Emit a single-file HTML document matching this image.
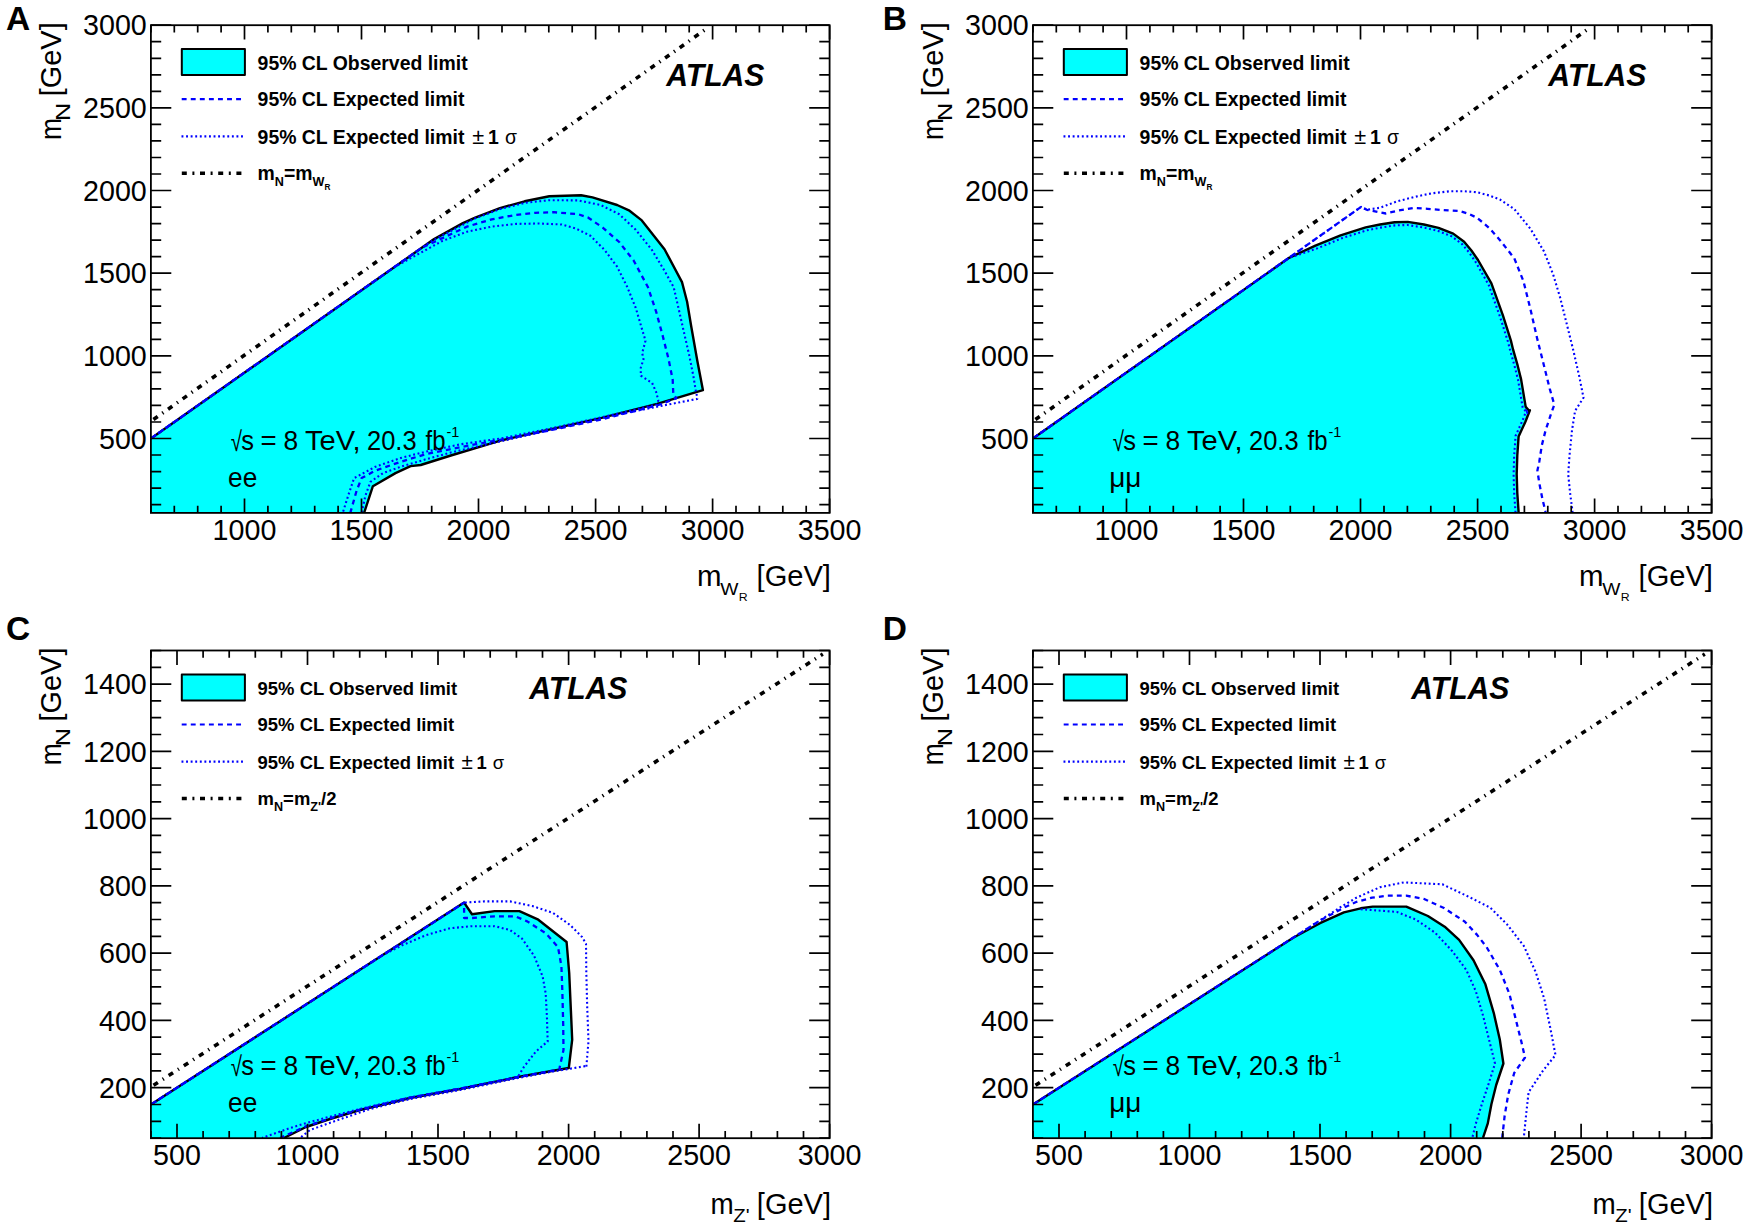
<!DOCTYPE html>
<html><head><meta charset="utf-8"><title>ATLAS limits</title>
<style>html,body{margin:0;padding:0;background:#fff}svg{display:block}</style></head><body>
<svg width="1750" height="1230" viewBox="0 0 1750 1230">
<rect width="1750" height="1230" fill="#fff"/>
<g id="panelA">
<path d="M150.9 512.9 L150.9 438.5 L434.1 239.1 L462.9 223.1 L475.2 217.7 L499.9 208.1 L524.6 201.3 L549.3 196.3 L581.1 195.3 L592.5 197.4 L617.1 205.0 L629.5 210.7 L641.8 220.4 L664.5 249.2 L682.0 282.1 L687.1 301.7 L691.2 326.3 L697.4 361.3 L702.9 390.1 L657.1 403.9 L601.7 417.8 L551.4 429.1 L501.2 440.4 L450.9 455.5 L420.7 465.0 L410.6 466.1 L395.5 473.1 L372.9 486.2 L364.1 512.9Z" fill="#00ffff" stroke="none"/>
<path d="M150.9 438.5 L434.1 239.1 L462.9 223.1 L475.2 217.7 L499.9 208.1 L524.6 201.3 L549.3 196.3 L581.1 195.3 L592.5 197.4 L617.1 205.0 L629.5 210.7 L641.8 220.4 L664.5 249.2 L682.0 282.1 L687.1 301.7 L691.2 326.3 L697.4 361.3 L702.9 390.1 L657.1 403.9 L601.7 417.8 L551.4 429.1 L501.2 440.4 L450.9 455.5 L420.7 465.0 L410.6 466.1 L395.5 473.1 L372.9 486.2 L364.1 512.9" fill="none" stroke="#000" stroke-width="2.4" stroke-linejoin="round"/>
<path d="M150.9 422.0 L706.0 29.8" fill="none" stroke="#000" stroke-width="3.6" stroke-dasharray="5.2 5.70 1.3 5.70" stroke-dashoffset="14.80" transform="translate(0 -0.7)"/>
<path d="M150.9 438.5 L395.0 266.7 L442.3 241.0 L467.0 231.7 L491.7 226.6 L516.3 223.9 L539.0 223.5 L561.6 224.5 L576.0 228.6 L590.4 235.8 L604.8 250.2 L617.1 266.7 L627.4 287.3 L635.7 307.8 L641.8 328.4 L645.5 340.7 L642.2 353.1 L643.5 359.3 L640.8 367.5 L640.8 375.7 L652.1 382.9 L656.2 392.2 L658.3 400.4 L657.1 404.4 L601.7 417.3 L551.4 428.3 L501.2 438.4 L460.9 444.2 L425.7 451.7 L400.6 458.0 L375.4 466.8 L354.1 478.1 L349.0 493.2 L342.7 512.9" fill="none" stroke="#0000ff" stroke-width="2.1" stroke-dasharray="1.9 2.6" stroke-linejoin="round"/>
<path d="M150.9 438.5 L429.9 242.0 L475.2 218.3 L499.9 209.1 L524.6 202.9 L549.3 200.2 L578.1 200.4 L600.7 205.0 L619.2 214.2 L635.7 229.7 L652.1 250.2 L664.5 270.8 L673.7 287.3 L678.9 309.9 L684.0 332.5 L689.2 355.1 L693.3 375.7 L695.7 390.1 L697.4 398.3 L697.3 398.9 L664.6 405.2 L626.9 412.7 L601.7 418.3 L551.4 429.8 L501.2 441.2 L450.9 452.5 L425.7 459.3 L400.6 466.8 L383.0 473.1 L370.4 481.9 L365.4 495.7 L361.6 512.9" fill="none" stroke="#0000ff" stroke-width="2.1" stroke-dasharray="1.9 2.6" stroke-linejoin="round"/>
<path d="M150.9 438.5 L421.7 247.8 L467.0 226.6 L491.7 219.4 L516.3 214.8 L534.9 212.8 L553.4 212.2 L578.1 214.2 L588.3 217.7 L602.7 227.6 L619.2 242.0 L633.6 260.5 L648.0 287.3 L656.2 311.9 L662.4 334.6 L668.6 359.3 L672.7 379.8 L673.3 394.2 L676.4 398.2 L657.1 405.5 L601.7 419.3 L551.4 430.1 L501.2 439.7 L476.0 444.2 L450.9 449.2 L425.7 454.2 L400.6 461.8 L375.4 470.6 L361.6 478.1 L356.6 490.7 L350.3 512.9" fill="none" stroke="#0000ff" stroke-width="2.3" stroke-dasharray="4.9 4.1" stroke-linejoin="round"/>
<rect x="150.9" y="25.2" width="678.7" height="487.7" fill="none" stroke="#000" stroke-width="1.8"/>
<path d="M150.9 512.9 v-7.2 M150.9 25.2 v7.2 M174.3 512.9 v-7.2 M174.3 25.2 v7.2 M197.7 512.9 v-7.2 M197.7 25.2 v7.2 M221.1 512.9 v-7.2 M221.1 25.2 v7.2 M244.5 512.9 v-14.4 M244.5 25.2 v14.4 M267.9 512.9 v-7.2 M267.9 25.2 v7.2 M291.3 512.9 v-7.2 M291.3 25.2 v7.2 M314.7 512.9 v-7.2 M314.7 25.2 v7.2 M338.1 512.9 v-7.2 M338.1 25.2 v7.2 M361.5 512.9 v-14.4 M361.5 25.2 v14.4 M384.9 512.9 v-7.2 M384.9 25.2 v7.2 M408.3 512.9 v-7.2 M408.3 25.2 v7.2 M431.7 512.9 v-7.2 M431.7 25.2 v7.2 M455.1 512.9 v-7.2 M455.1 25.2 v7.2 M478.5 512.9 v-14.4 M478.5 25.2 v14.4 M502.0 512.9 v-7.2 M502.0 25.2 v7.2 M525.4 512.9 v-7.2 M525.4 25.2 v7.2 M548.8 512.9 v-7.2 M548.8 25.2 v7.2 M572.2 512.9 v-7.2 M572.2 25.2 v7.2 M595.6 512.9 v-14.4 M595.6 25.2 v14.4 M619.0 512.9 v-7.2 M619.0 25.2 v7.2 M642.4 512.9 v-7.2 M642.4 25.2 v7.2 M665.8 512.9 v-7.2 M665.8 25.2 v7.2 M689.2 512.9 v-7.2 M689.2 25.2 v7.2 M712.6 512.9 v-14.4 M712.6 25.2 v14.4 M736.0 512.9 v-7.2 M736.0 25.2 v7.2 M759.4 512.9 v-7.2 M759.4 25.2 v7.2 M782.8 512.9 v-7.2 M782.8 25.2 v7.2 M806.2 512.9 v-7.2 M806.2 25.2 v7.2 M829.6 512.9 v-14.4 M829.6 25.2 v14.4 M150.9 504.6 h10.3 M829.6 504.6 h-10.3 M150.9 488.1 h10.3 M829.6 488.1 h-10.3 M150.9 471.6 h10.3 M829.6 471.6 h-10.3 M150.9 455.0 h10.3 M829.6 455.0 h-10.3 M150.9 438.5 h20.4 M829.6 438.5 h-20.4 M150.9 422.0 h10.3 M829.6 422.0 h-10.3 M150.9 405.4 h10.3 M829.6 405.4 h-10.3 M150.9 388.9 h10.3 M829.6 388.9 h-10.3 M150.9 372.4 h10.3 M829.6 372.4 h-10.3 M150.9 355.8 h20.4 M829.6 355.8 h-20.4 M150.9 339.3 h10.3 M829.6 339.3 h-10.3 M150.9 322.8 h10.3 M829.6 322.8 h-10.3 M150.9 306.2 h10.3 M829.6 306.2 h-10.3 M150.9 289.7 h10.3 M829.6 289.7 h-10.3 M150.9 273.2 h20.4 M829.6 273.2 h-20.4 M150.9 256.7 h10.3 M829.6 256.7 h-10.3 M150.9 240.1 h10.3 M829.6 240.1 h-10.3 M150.9 223.6 h10.3 M829.6 223.6 h-10.3 M150.9 207.1 h10.3 M829.6 207.1 h-10.3 M150.9 190.5 h20.4 M829.6 190.5 h-20.4 M150.9 174.0 h10.3 M829.6 174.0 h-10.3 M150.9 157.5 h10.3 M829.6 157.5 h-10.3 M150.9 140.9 h10.3 M829.6 140.9 h-10.3 M150.9 124.4 h10.3 M829.6 124.4 h-10.3 M150.9 107.9 h20.4 M829.6 107.9 h-20.4 M150.9 91.3 h10.3 M829.6 91.3 h-10.3 M150.9 74.8 h10.3 M829.6 74.8 h-10.3 M150.9 58.3 h10.3 M829.6 58.3 h-10.3 M150.9 41.7 h10.3 M829.6 41.7 h-10.3 M150.9 25.2 h20.4 M829.6 25.2 h-20.4" fill="none" stroke="#000" stroke-width="1.7"/>
<text font-family="Liberation Sans, Arial, Helvetica, sans-serif" font-size="30.2" text-anchor="middle" transform="translate(244.5 540.1) scale(0.950 1)" >1000</text>
<text font-family="Liberation Sans, Arial, Helvetica, sans-serif" font-size="30.2" text-anchor="middle" transform="translate(361.5 540.1) scale(0.950 1)" >1500</text>
<text font-family="Liberation Sans, Arial, Helvetica, sans-serif" font-size="30.2" text-anchor="middle" transform="translate(478.5 540.1) scale(0.950 1)" >2000</text>
<text font-family="Liberation Sans, Arial, Helvetica, sans-serif" font-size="30.2" text-anchor="middle" transform="translate(595.6 540.1) scale(0.950 1)" >2500</text>
<text font-family="Liberation Sans, Arial, Helvetica, sans-serif" font-size="30.2" text-anchor="middle" transform="translate(712.6 540.1) scale(0.950 1)" >3000</text>
<text font-family="Liberation Sans, Arial, Helvetica, sans-serif" font-size="30.2" text-anchor="middle" transform="translate(829.6 540.1) scale(0.950 1)" >3500</text>
<text font-family="Liberation Sans, Arial, Helvetica, sans-serif" font-size="30.2" text-anchor="end" transform="translate(146.8 448.7) scale(0.950 1)" >500</text>
<text font-family="Liberation Sans, Arial, Helvetica, sans-serif" font-size="30.2" text-anchor="end" transform="translate(146.8 366.0) scale(0.950 1)" >1000</text>
<text font-family="Liberation Sans, Arial, Helvetica, sans-serif" font-size="30.2" text-anchor="end" transform="translate(146.8 283.4) scale(0.950 1)" >1500</text>
<text font-family="Liberation Sans, Arial, Helvetica, sans-serif" font-size="30.2" text-anchor="end" transform="translate(146.8 200.7) scale(0.950 1)" >2000</text>
<text font-family="Liberation Sans, Arial, Helvetica, sans-serif" font-size="30.2" text-anchor="end" transform="translate(146.8 118.1) scale(0.950 1)" >2500</text>
<text font-family="Liberation Sans, Arial, Helvetica, sans-serif" font-size="30.2" text-anchor="end" transform="translate(146.8 35.4) scale(0.950 1)" >3000</text>
<text font-family="Liberation Sans, Arial, Helvetica, sans-serif"><tspan x="697.01" y="585.60" font-size="30" textLength="24.51" lengthAdjust="spacingAndGlyphs">m</tspan><tspan x="720.30" y="595.40" font-size="17" textLength="18.17" lengthAdjust="spacingAndGlyphs">W</tspan><tspan x="738.68" y="600.60" font-size="10" textLength="8.90" lengthAdjust="spacingAndGlyphs">R</tspan> <tspan x="756.56" y="585.60" font-size="30" textLength="74.35" lengthAdjust="spacingAndGlyphs">[GeV]</tspan></text>
<text font-family="Liberation Sans, Arial, Helvetica, sans-serif" transform="rotate(-90)"><tspan x="-139.88" y="61.40" font-size="30" textLength="22.02" lengthAdjust="spacingAndGlyphs">m</tspan><tspan x="-120.99" y="70.20" font-size="21" textLength="18.27" lengthAdjust="spacingAndGlyphs">N</tspan> <tspan x="-96.33" y="61.40" font-size="30" textLength="74.03" lengthAdjust="spacingAndGlyphs">[GeV]</tspan></text>
<text font-family="Liberation Sans, Arial, Helvetica, sans-serif" font-size="33.5" text-anchor="start" transform="translate(6.0 30.2)" font-weight="bold">A</text>
<rect x="181.8" y="49.1" width="63.1" height="26" fill="#00ffff" stroke="#000" stroke-width="2" stroke-linejoin="round"/>
<path d="M181.7 99.2 H241.4" stroke="#0000ff" stroke-width="2.2" stroke-dasharray="4.9 4.17"/>
<path d="M181.5 136.3 H243.3" stroke="#0000ff" stroke-width="2.3" stroke-dasharray="1.9 2.68"/>
<path d="M181.8 173.2 H241.8" stroke="#000" stroke-width="3.6" stroke-dasharray="5 5.6 2 5.6"/>
<text font-family="Liberation Sans, Arial, Helvetica, sans-serif" font-size="20" text-anchor="start" transform="translate(257.6 69.8) scale(0.971 1)" font-weight="bold">95% CL Observed limit</text>
<text font-family="Liberation Sans, Arial, Helvetica, sans-serif" font-size="20" text-anchor="start" transform="translate(257.6 105.8) scale(0.971 1)" font-weight="bold">95% CL Expected limit</text>
<text font-family="Liberation Sans, Arial, Helvetica, sans-serif" font-size="20" text-anchor="start" transform="translate(257.6 143.6) scale(0.971 1)" font-weight="bold">95% CL Expected limit <tspan font-weight="normal" font-size="22.4" dx="2.5">±</tspan><tspan dx="-1.5"> 1 </tspan><tspan font-weight="normal" font-size="20.0" dx="0.7">σ</tspan></text>
<text font-family="Liberation Sans, Arial, Helvetica, sans-serif" font-size="20" text-anchor="start" transform="translate(257.6 180.1) scale(0.971 1)" font-weight="bold">m<tspan font-size="13" dy="6">N</tspan><tspan dy="-6">=m</tspan><tspan font-size="13" dy="6">W</tspan><tspan font-size="8.5" dy="4">R</tspan></text>
<text font-family="Liberation Sans, Arial, Helvetica, sans-serif" font-size="31.5" text-anchor="start" transform="translate(666.2 86.3) scale(0.957 1)" font-weight="bold" font-style="italic">ATLAS</text>
<text font-family="Liberation Sans, Arial, Helvetica, sans-serif"><tspan x="230.69" y="451.10" font-size="27.5" textLength="11.24" lengthAdjust="spacingAndGlyphs">√</tspan><tspan x="241.30" y="450.20" font-size="27" textLength="12.69" lengthAdjust="spacingAndGlyphs">s</tspan> <tspan x="260.58" y="450.20" font-size="27" textLength="16.17" lengthAdjust="spacingAndGlyphs">=</tspan> <tspan x="283.38" y="450.20" font-size="27" textLength="14.67" lengthAdjust="spacingAndGlyphs">8</tspan> <tspan x="304.95" y="450.20" font-size="27" textLength="55.55" lengthAdjust="spacingAndGlyphs">TeV,</tspan> <tspan x="367.03" y="450.20" font-size="27" textLength="49.59" lengthAdjust="spacingAndGlyphs">20.3</tspan> <tspan x="425.54" y="450.20" font-size="27" textLength="19.95" lengthAdjust="spacingAndGlyphs">fb</tspan><tspan x="446.45" y="437.10" font-size="15" textLength="12.86" lengthAdjust="spacingAndGlyphs">-1</tspan></text>
<text font-family="Liberation Sans, Arial, Helvetica, sans-serif"><tspan x="228.08" y="487.10" font-size="27" textLength="29.19" lengthAdjust="spacingAndGlyphs">ee</tspan></text>
</g>
<g id="panelB">
<path d="M1032.9 512.9 L1032.9 438.5 L1289.1 257.8 L1315.4 245.7 L1340.6 235.4 L1365.7 227.4 L1380.0 224.5 L1394.6 222.3 L1407.8 221.9 L1423.9 224.5 L1438.5 227.8 L1453.2 233.6 L1464.1 241.7 L1471.4 250.5 L1478.0 260.0 L1491.4 283.4 L1502.9 315.4 L1510.9 340.6 L1513.1 349.7 L1517.7 365.7 L1521.1 379.4 L1525.7 406.9 L1529.1 410.7 L1529.9 410.2 L1525.5 421.5 L1518.6 436.6 L1517.3 455.4 L1516.7 474.3 L1517.3 493.1 L1518.6 512.0Z" fill="#00ffff" stroke="none"/>
<path d="M1032.9 438.5 L1289.1 257.8 L1315.4 245.7 L1340.6 235.4 L1365.7 227.4 L1380.0 224.5 L1394.6 222.3 L1407.8 221.9 L1423.9 224.5 L1438.5 227.8 L1453.2 233.6 L1464.1 241.7 L1471.4 250.5 L1478.0 260.0 L1491.4 283.4 L1502.9 315.4 L1510.9 340.6 L1513.1 349.7 L1517.7 365.7 L1521.1 379.4 L1525.7 406.9 L1529.1 410.7 L1529.9 410.2 L1525.5 421.5 L1518.6 436.6 L1517.3 455.4 L1516.7 474.3 L1517.3 493.1 L1518.6 512.0" fill="none" stroke="#000" stroke-width="2.4" stroke-linejoin="round"/>
<path d="M1032.9 422.0 L1588.0 29.8" fill="none" stroke="#000" stroke-width="3.6" stroke-dasharray="5.2 5.70 1.3 5.70" stroke-dashoffset="14.80" transform="translate(0 -0.7)"/>
<path d="M1032.9 438.5 L1289.1 257.8 L1316.7 248.6 L1341.6 238.3 L1366.5 230.4 L1380.5 227.6 L1394.9 225.4 L1407.6 225.0 L1423.3 227.5 L1437.6 230.7 L1451.7 236.4 L1462.0 244.0 L1469.0 252.3 L1475.4 261.6 L1488.6 284.7 L1499.9 316.4 L1507.9 341.5 L1510.2 350.5 L1514.7 366.5 L1518.1 380.0 L1522.7 407.6 L1527.2 413.2 L1526.9 409.2 L1522.6 420.3 L1515.6 435.8 L1514.2 455.3 L1513.6 474.3 L1514.2 493.3 L1515.5 512.2" fill="none" stroke="#0000ff" stroke-width="2.1" stroke-dasharray="1.9 2.6" stroke-linejoin="round"/>
<path d="M1032.9 438.5 L1361.1 206.9 L1366.9 209.8 L1380.0 207.7 L1396.8 201.5 L1413.7 197.1 L1431.2 193.4 L1450.2 191.2 L1464.1 191.2 L1477.3 192.3 L1489.7 195.6 L1500.0 199.6 L1514.3 209.1 L1530.3 228.6 L1544.0 251.4 L1553.1 274.3 L1560.0 297.1 L1566.9 324.6 L1573.7 352.0 L1579.4 377.1 L1583.5 397.7 L1575.1 410.8 L1572.0 430.3 L1569.5 455.4 L1568.2 474.3 L1570.1 493.1 L1572.6 512.0" fill="none" stroke="#0000ff" stroke-width="2.1" stroke-dasharray="1.9 2.6" stroke-linejoin="round"/>
<path d="M1032.9 438.5 L1361.1 206.9 L1366.9 209.8 L1385.9 213.5 L1398.3 210.6 L1413.7 208.0 L1427.5 208.8 L1440.7 209.9 L1459.7 211.0 L1467.8 213.5 L1476.6 217.5 L1483.9 223.4 L1489.7 228.5 L1500.0 240.2 L1514.3 258.3 L1523.4 281.1 L1530.3 308.6 L1537.1 338.3 L1544.0 365.7 L1549.7 388.6 L1554.3 404.6 L1550.6 415.2 L1545.6 430.3 L1541.8 445.4 L1539.3 461.7 L1537.4 470.5 L1539.3 483.1 L1542.5 499.4 L1545.6 512.0" fill="none" stroke="#0000ff" stroke-width="2.3" stroke-dasharray="4.9 4.1" stroke-linejoin="round"/>
<rect x="1032.9" y="25.2" width="678.7" height="487.7" fill="none" stroke="#000" stroke-width="1.8"/>
<path d="M1032.9 512.9 v-7.2 M1032.9 25.2 v7.2 M1056.3 512.9 v-7.2 M1056.3 25.2 v7.2 M1079.7 512.9 v-7.2 M1079.7 25.2 v7.2 M1103.1 512.9 v-7.2 M1103.1 25.2 v7.2 M1126.5 512.9 v-14.4 M1126.5 25.2 v14.4 M1149.9 512.9 v-7.2 M1149.9 25.2 v7.2 M1173.3 512.9 v-7.2 M1173.3 25.2 v7.2 M1196.7 512.9 v-7.2 M1196.7 25.2 v7.2 M1220.1 512.9 v-7.2 M1220.1 25.2 v7.2 M1243.5 512.9 v-14.4 M1243.5 25.2 v14.4 M1266.9 512.9 v-7.2 M1266.9 25.2 v7.2 M1290.3 512.9 v-7.2 M1290.3 25.2 v7.2 M1313.7 512.9 v-7.2 M1313.7 25.2 v7.2 M1337.1 512.9 v-7.2 M1337.1 25.2 v7.2 M1360.5 512.9 v-14.4 M1360.5 25.2 v14.4 M1384.0 512.9 v-7.2 M1384.0 25.2 v7.2 M1407.4 512.9 v-7.2 M1407.4 25.2 v7.2 M1430.8 512.9 v-7.2 M1430.8 25.2 v7.2 M1454.2 512.9 v-7.2 M1454.2 25.2 v7.2 M1477.6 512.9 v-14.4 M1477.6 25.2 v14.4 M1501.0 512.9 v-7.2 M1501.0 25.2 v7.2 M1524.4 512.9 v-7.2 M1524.4 25.2 v7.2 M1547.8 512.9 v-7.2 M1547.8 25.2 v7.2 M1571.2 512.9 v-7.2 M1571.2 25.2 v7.2 M1594.6 512.9 v-14.4 M1594.6 25.2 v14.4 M1618.0 512.9 v-7.2 M1618.0 25.2 v7.2 M1641.4 512.9 v-7.2 M1641.4 25.2 v7.2 M1664.8 512.9 v-7.2 M1664.8 25.2 v7.2 M1688.2 512.9 v-7.2 M1688.2 25.2 v7.2 M1711.6 512.9 v-14.4 M1711.6 25.2 v14.4 M1032.9 504.6 h10.3 M1711.6 504.6 h-10.3 M1032.9 488.1 h10.3 M1711.6 488.1 h-10.3 M1032.9 471.6 h10.3 M1711.6 471.6 h-10.3 M1032.9 455.0 h10.3 M1711.6 455.0 h-10.3 M1032.9 438.5 h20.4 M1711.6 438.5 h-20.4 M1032.9 422.0 h10.3 M1711.6 422.0 h-10.3 M1032.9 405.4 h10.3 M1711.6 405.4 h-10.3 M1032.9 388.9 h10.3 M1711.6 388.9 h-10.3 M1032.9 372.4 h10.3 M1711.6 372.4 h-10.3 M1032.9 355.8 h20.4 M1711.6 355.8 h-20.4 M1032.9 339.3 h10.3 M1711.6 339.3 h-10.3 M1032.9 322.8 h10.3 M1711.6 322.8 h-10.3 M1032.9 306.2 h10.3 M1711.6 306.2 h-10.3 M1032.9 289.7 h10.3 M1711.6 289.7 h-10.3 M1032.9 273.2 h20.4 M1711.6 273.2 h-20.4 M1032.9 256.7 h10.3 M1711.6 256.7 h-10.3 M1032.9 240.1 h10.3 M1711.6 240.1 h-10.3 M1032.9 223.6 h10.3 M1711.6 223.6 h-10.3 M1032.9 207.1 h10.3 M1711.6 207.1 h-10.3 M1032.9 190.5 h20.4 M1711.6 190.5 h-20.4 M1032.9 174.0 h10.3 M1711.6 174.0 h-10.3 M1032.9 157.5 h10.3 M1711.6 157.5 h-10.3 M1032.9 140.9 h10.3 M1711.6 140.9 h-10.3 M1032.9 124.4 h10.3 M1711.6 124.4 h-10.3 M1032.9 107.9 h20.4 M1711.6 107.9 h-20.4 M1032.9 91.3 h10.3 M1711.6 91.3 h-10.3 M1032.9 74.8 h10.3 M1711.6 74.8 h-10.3 M1032.9 58.3 h10.3 M1711.6 58.3 h-10.3 M1032.9 41.7 h10.3 M1711.6 41.7 h-10.3 M1032.9 25.2 h20.4 M1711.6 25.2 h-20.4" fill="none" stroke="#000" stroke-width="1.7"/>
<text font-family="Liberation Sans, Arial, Helvetica, sans-serif" font-size="30.2" text-anchor="middle" transform="translate(1126.5 540.1) scale(0.950 1)" >1000</text>
<text font-family="Liberation Sans, Arial, Helvetica, sans-serif" font-size="30.2" text-anchor="middle" transform="translate(1243.5 540.1) scale(0.950 1)" >1500</text>
<text font-family="Liberation Sans, Arial, Helvetica, sans-serif" font-size="30.2" text-anchor="middle" transform="translate(1360.5 540.1) scale(0.950 1)" >2000</text>
<text font-family="Liberation Sans, Arial, Helvetica, sans-serif" font-size="30.2" text-anchor="middle" transform="translate(1477.6 540.1) scale(0.950 1)" >2500</text>
<text font-family="Liberation Sans, Arial, Helvetica, sans-serif" font-size="30.2" text-anchor="middle" transform="translate(1594.6 540.1) scale(0.950 1)" >3000</text>
<text font-family="Liberation Sans, Arial, Helvetica, sans-serif" font-size="30.2" text-anchor="middle" transform="translate(1711.6 540.1) scale(0.950 1)" >3500</text>
<text font-family="Liberation Sans, Arial, Helvetica, sans-serif" font-size="30.2" text-anchor="end" transform="translate(1028.8 448.7) scale(0.950 1)" >500</text>
<text font-family="Liberation Sans, Arial, Helvetica, sans-serif" font-size="30.2" text-anchor="end" transform="translate(1028.8 366.0) scale(0.950 1)" >1000</text>
<text font-family="Liberation Sans, Arial, Helvetica, sans-serif" font-size="30.2" text-anchor="end" transform="translate(1028.8 283.4) scale(0.950 1)" >1500</text>
<text font-family="Liberation Sans, Arial, Helvetica, sans-serif" font-size="30.2" text-anchor="end" transform="translate(1028.8 200.7) scale(0.950 1)" >2000</text>
<text font-family="Liberation Sans, Arial, Helvetica, sans-serif" font-size="30.2" text-anchor="end" transform="translate(1028.8 118.1) scale(0.950 1)" >2500</text>
<text font-family="Liberation Sans, Arial, Helvetica, sans-serif" font-size="30.2" text-anchor="end" transform="translate(1028.8 35.4) scale(0.950 1)" >3000</text>
<text font-family="Liberation Sans, Arial, Helvetica, sans-serif"><tspan x="1579.01" y="585.60" font-size="30" textLength="24.51" lengthAdjust="spacingAndGlyphs">m</tspan><tspan x="1602.30" y="595.40" font-size="17" textLength="18.17" lengthAdjust="spacingAndGlyphs">W</tspan><tspan x="1620.68" y="600.60" font-size="10" textLength="8.90" lengthAdjust="spacingAndGlyphs">R</tspan> <tspan x="1638.56" y="585.60" font-size="30" textLength="74.35" lengthAdjust="spacingAndGlyphs">[GeV]</tspan></text>
<text font-family="Liberation Sans, Arial, Helvetica, sans-serif" transform="rotate(-90)"><tspan x="-139.88" y="943.40" font-size="30" textLength="22.02" lengthAdjust="spacingAndGlyphs">m</tspan><tspan x="-120.99" y="952.20" font-size="21" textLength="18.27" lengthAdjust="spacingAndGlyphs">N</tspan> <tspan x="-96.33" y="943.40" font-size="30" textLength="74.03" lengthAdjust="spacingAndGlyphs">[GeV]</tspan></text>
<text font-family="Liberation Sans, Arial, Helvetica, sans-serif" font-size="33.5" text-anchor="start" transform="translate(882.8 30.2)" font-weight="bold">B</text>
<rect x="1063.8" y="49.1" width="63.1" height="26" fill="#00ffff" stroke="#000" stroke-width="2" stroke-linejoin="round"/>
<path d="M1063.7 99.2 H1123.4" stroke="#0000ff" stroke-width="2.2" stroke-dasharray="4.9 4.17"/>
<path d="M1063.5 136.3 H1125.3" stroke="#0000ff" stroke-width="2.3" stroke-dasharray="1.9 2.68"/>
<path d="M1063.8 173.2 H1123.8" stroke="#000" stroke-width="3.6" stroke-dasharray="5 5.6 2 5.6"/>
<text font-family="Liberation Sans, Arial, Helvetica, sans-serif" font-size="20" text-anchor="start" transform="translate(1139.6 69.8) scale(0.971 1)" font-weight="bold">95% CL Observed limit</text>
<text font-family="Liberation Sans, Arial, Helvetica, sans-serif" font-size="20" text-anchor="start" transform="translate(1139.6 105.8) scale(0.971 1)" font-weight="bold">95% CL Expected limit</text>
<text font-family="Liberation Sans, Arial, Helvetica, sans-serif" font-size="20" text-anchor="start" transform="translate(1139.6 143.6) scale(0.971 1)" font-weight="bold">95% CL Expected limit <tspan font-weight="normal" font-size="22.4" dx="2.5">±</tspan><tspan dx="-1.5"> 1 </tspan><tspan font-weight="normal" font-size="20.0" dx="0.7">σ</tspan></text>
<text font-family="Liberation Sans, Arial, Helvetica, sans-serif" font-size="20" text-anchor="start" transform="translate(1139.6 180.1) scale(0.971 1)" font-weight="bold">m<tspan font-size="13" dy="6">N</tspan><tspan dy="-6">=m</tspan><tspan font-size="13" dy="6">W</tspan><tspan font-size="8.5" dy="4">R</tspan></text>
<text font-family="Liberation Sans, Arial, Helvetica, sans-serif" font-size="31.5" text-anchor="start" transform="translate(1548.2 86.3) scale(0.957 1)" font-weight="bold" font-style="italic">ATLAS</text>
<text font-family="Liberation Sans, Arial, Helvetica, sans-serif"><tspan x="1112.69" y="451.10" font-size="27.5" textLength="11.24" lengthAdjust="spacingAndGlyphs">√</tspan><tspan x="1123.30" y="450.20" font-size="27" textLength="12.69" lengthAdjust="spacingAndGlyphs">s</tspan> <tspan x="1142.58" y="450.20" font-size="27" textLength="16.17" lengthAdjust="spacingAndGlyphs">=</tspan> <tspan x="1165.38" y="450.20" font-size="27" textLength="14.67" lengthAdjust="spacingAndGlyphs">8</tspan> <tspan x="1186.95" y="450.20" font-size="27" textLength="55.55" lengthAdjust="spacingAndGlyphs">TeV,</tspan> <tspan x="1249.03" y="450.20" font-size="27" textLength="49.59" lengthAdjust="spacingAndGlyphs">20.3</tspan> <tspan x="1307.54" y="450.20" font-size="27" textLength="19.95" lengthAdjust="spacingAndGlyphs">fb</tspan><tspan x="1328.45" y="437.10" font-size="15" textLength="12.86" lengthAdjust="spacingAndGlyphs">-1</tspan></text>
<text font-family="Liberation Sans, Arial, Helvetica, sans-serif"><tspan x="1109.21" y="487.10" font-size="27" textLength="32.29" lengthAdjust="spacingAndGlyphs">μμ</tspan></text>
</g>
<g id="panelC">
<path d="M150.9 1138.2 L150.9 1104.5 L464.1 902.6 L472.0 914.2 L494.6 911.1 L519.4 911.1 L538.3 919.7 L566.6 942.0 L569.2 972.9 L570.9 1010.6 L572.2 1039.7 L568.8 1068.0 L518.0 1077.0 L460.0 1089.0 L410.0 1098.0 L390.0 1103.0 L360.0 1110.0 L330.0 1119.0 L306.0 1127.0 L284.0 1138.0Z" fill="#00ffff" stroke="none"/>
<path d="M150.9 1104.5 L464.1 902.6 L472.0 914.2 L494.6 911.1 L519.4 911.1 L538.3 919.7 L566.6 942.0 L569.2 972.9 L570.9 1010.6 L572.2 1039.7 L568.8 1068.0 L518.0 1077.0 L460.0 1089.0 L410.0 1098.0 L390.0 1103.0 L360.0 1110.0 L330.0 1119.0 L306.0 1127.0 L284.0 1138.0" fill="none" stroke="#000" stroke-width="2.4" stroke-linejoin="round"/>
<path d="M150.9 1087.7 L822.8 654.8" fill="none" stroke="#000" stroke-width="3.6" stroke-dasharray="5.2 5.77 1.3 5.77" stroke-dashoffset="14.93" transform="translate(0 -0.7)"/>
<path d="M150.9 1104.5 L381.4 955.7 L402.0 945.4 L426.0 935.1 L450.0 928.3 L470.6 926.2 L494.6 926.2 L510.0 930.0 L522.0 938.6 L534.0 955.7 L542.6 976.3 L545.7 993.4 L546.9 1015.7 L547.7 1041.4 L535.7 1051.7 L523.7 1067.2 L518.6 1075.7 L518.0 1077.0 L460.0 1088.6 L410.0 1097.4 L390.0 1102.0 L360.0 1109.0 L340.0 1114.0 L310.0 1122.0 L290.0 1128.0 L262.0 1138.0" fill="none" stroke="#0000ff" stroke-width="2.1" stroke-dasharray="1.9 2.6" stroke-linejoin="round"/>
<path d="M150.9 1104.5 L464.1 902.6 L484.3 901.4 L510.0 901.4 L532.3 906.0 L552.9 912.9 L570.0 924.9 L582.0 936.9 L586.0 943.7 L586.3 972.9 L587.2 1007.2 L588.5 1041.4 L586.3 1067.2 L586.0 1066.0 L550.0 1072.0 L518.0 1078.0 L460.0 1090.0 L410.0 1099.0 L370.0 1109.0 L338.0 1120.0 L310.0 1130.0 L300.0 1138.0" fill="none" stroke="#0000ff" stroke-width="2.1" stroke-dasharray="1.9 2.6" stroke-linejoin="round"/>
<path d="M150.9 1104.5 L464.1 902.6 L464.1 918.0 L472.3 918.0 L494.6 916.3 L515.2 916.3 L527.2 921.4 L546.0 933.4 L558.0 947.1 L561.4 966.0 L562.3 990.0 L563.2 1024.3 L563.5 1050.0 L559.7 1067.2 L559.6 1069.4 L518.0 1077.0 L460.0 1088.6 L410.0 1097.6 L390.0 1102.4 L360.0 1109.6 L330.0 1118.4 L306.0 1126.4 L280.0 1138.0" fill="none" stroke="#0000ff" stroke-width="2.3" stroke-dasharray="4.9 4.1" stroke-linejoin="round"/>
<rect x="150.9" y="650.5" width="678.7" height="487.7" fill="none" stroke="#000" stroke-width="1.8"/>
<path d="M150.9 1138.2 v-7.2 M150.9 650.5 v7.2 M177.0 1138.2 v-14.4 M177.0 650.5 v14.4 M203.1 1138.2 v-7.2 M203.1 650.5 v7.2 M229.2 1138.2 v-7.2 M229.2 650.5 v7.2 M255.3 1138.2 v-7.2 M255.3 650.5 v7.2 M281.4 1138.2 v-7.2 M281.4 650.5 v7.2 M307.5 1138.2 v-14.4 M307.5 650.5 v14.4 M333.6 1138.2 v-7.2 M333.6 650.5 v7.2 M359.7 1138.2 v-7.2 M359.7 650.5 v7.2 M385.8 1138.2 v-7.2 M385.8 650.5 v7.2 M411.9 1138.2 v-7.2 M411.9 650.5 v7.2 M438.0 1138.2 v-14.4 M438.0 650.5 v14.4 M464.1 1138.2 v-7.2 M464.1 650.5 v7.2 M490.2 1138.2 v-7.2 M490.2 650.5 v7.2 M516.4 1138.2 v-7.2 M516.4 650.5 v7.2 M542.5 1138.2 v-7.2 M542.5 650.5 v7.2 M568.6 1138.2 v-14.4 M568.6 650.5 v14.4 M594.7 1138.2 v-7.2 M594.7 650.5 v7.2 M620.8 1138.2 v-7.2 M620.8 650.5 v7.2 M646.9 1138.2 v-7.2 M646.9 650.5 v7.2 M673.0 1138.2 v-7.2 M673.0 650.5 v7.2 M699.1 1138.2 v-14.4 M699.1 650.5 v14.4 M725.2 1138.2 v-7.2 M725.2 650.5 v7.2 M751.3 1138.2 v-7.2 M751.3 650.5 v7.2 M777.4 1138.2 v-7.2 M777.4 650.5 v7.2 M803.5 1138.2 v-7.2 M803.5 650.5 v7.2 M829.6 1138.2 v-14.4 M829.6 650.5 v14.4 M150.9 1138.2 h10.3 M829.6 1138.2 h-10.3 M150.9 1121.3 h10.3 M829.6 1121.3 h-10.3 M150.9 1104.5 h10.3 M829.6 1104.5 h-10.3 M150.9 1087.7 h20.4 M829.6 1087.7 h-20.4 M150.9 1070.9 h10.3 M829.6 1070.9 h-10.3 M150.9 1054.1 h10.3 M829.6 1054.1 h-10.3 M150.9 1037.2 h10.3 M829.6 1037.2 h-10.3 M150.9 1020.4 h20.4 M829.6 1020.4 h-20.4 M150.9 1003.6 h10.3 M829.6 1003.6 h-10.3 M150.9 986.8 h10.3 M829.6 986.8 h-10.3 M150.9 970.0 h10.3 M829.6 970.0 h-10.3 M150.9 953.2 h20.4 M829.6 953.2 h-20.4 M150.9 936.3 h10.3 M829.6 936.3 h-10.3 M150.9 919.5 h10.3 M829.6 919.5 h-10.3 M150.9 902.7 h10.3 M829.6 902.7 h-10.3 M150.9 885.9 h20.4 M829.6 885.9 h-20.4 M150.9 869.1 h10.3 M829.6 869.1 h-10.3 M150.9 852.3 h10.3 M829.6 852.3 h-10.3 M150.9 835.4 h10.3 M829.6 835.4 h-10.3 M150.9 818.6 h20.4 M829.6 818.6 h-20.4 M150.9 801.8 h10.3 M829.6 801.8 h-10.3 M150.9 785.0 h10.3 M829.6 785.0 h-10.3 M150.9 768.2 h10.3 M829.6 768.2 h-10.3 M150.9 751.4 h20.4 M829.6 751.4 h-20.4 M150.9 734.5 h10.3 M829.6 734.5 h-10.3 M150.9 717.7 h10.3 M829.6 717.7 h-10.3 M150.9 700.9 h10.3 M829.6 700.9 h-10.3 M150.9 684.1 h20.4 M829.6 684.1 h-20.4 M150.9 667.3 h10.3 M829.6 667.3 h-10.3 M150.9 650.5 h10.3 M829.6 650.5 h-10.3" fill="none" stroke="#000" stroke-width="1.7"/>
<text font-family="Liberation Sans, Arial, Helvetica, sans-serif" font-size="30.2" text-anchor="middle" transform="translate(177.0 1165.4) scale(0.950 1)" >500</text>
<text font-family="Liberation Sans, Arial, Helvetica, sans-serif" font-size="30.2" text-anchor="middle" transform="translate(307.5 1165.4) scale(0.950 1)" >1000</text>
<text font-family="Liberation Sans, Arial, Helvetica, sans-serif" font-size="30.2" text-anchor="middle" transform="translate(438.0 1165.4) scale(0.950 1)" >1500</text>
<text font-family="Liberation Sans, Arial, Helvetica, sans-serif" font-size="30.2" text-anchor="middle" transform="translate(568.6 1165.4) scale(0.950 1)" >2000</text>
<text font-family="Liberation Sans, Arial, Helvetica, sans-serif" font-size="30.2" text-anchor="middle" transform="translate(699.1 1165.4) scale(0.950 1)" >2500</text>
<text font-family="Liberation Sans, Arial, Helvetica, sans-serif" font-size="30.2" text-anchor="middle" transform="translate(829.6 1165.4) scale(0.950 1)" >3000</text>
<text font-family="Liberation Sans, Arial, Helvetica, sans-serif" font-size="30.2" text-anchor="end" transform="translate(146.8 1097.9) scale(0.950 1)" >200</text>
<text font-family="Liberation Sans, Arial, Helvetica, sans-serif" font-size="30.2" text-anchor="end" transform="translate(146.8 1030.6) scale(0.950 1)" >400</text>
<text font-family="Liberation Sans, Arial, Helvetica, sans-serif" font-size="30.2" text-anchor="end" transform="translate(146.8 963.4) scale(0.950 1)" >600</text>
<text font-family="Liberation Sans, Arial, Helvetica, sans-serif" font-size="30.2" text-anchor="end" transform="translate(146.8 896.1) scale(0.950 1)" >800</text>
<text font-family="Liberation Sans, Arial, Helvetica, sans-serif" font-size="30.2" text-anchor="end" transform="translate(146.8 828.8) scale(0.950 1)" >1000</text>
<text font-family="Liberation Sans, Arial, Helvetica, sans-serif" font-size="30.2" text-anchor="end" transform="translate(146.8 761.6) scale(0.950 1)" >1200</text>
<text font-family="Liberation Sans, Arial, Helvetica, sans-serif" font-size="30.2" text-anchor="end" transform="translate(146.8 694.3) scale(0.950 1)" >1400</text>
<text font-family="Liberation Sans, Arial, Helvetica, sans-serif"><tspan x="710.42" y="1213.55" font-size="30" textLength="23.21" lengthAdjust="spacingAndGlyphs">m</tspan><tspan x="733.34" y="1222.25" font-size="19" textLength="16.32" lengthAdjust="spacingAndGlyphs">Z'</tspan> <tspan x="756.87" y="1213.55" font-size="30" textLength="74.14" lengthAdjust="spacingAndGlyphs">[GeV]</tspan></text>
<text font-family="Liberation Sans, Arial, Helvetica, sans-serif" transform="rotate(-90)"><tspan x="-765.13" y="61.40" font-size="30" textLength="22.02" lengthAdjust="spacingAndGlyphs">m</tspan><tspan x="-746.24" y="70.20" font-size="21" textLength="18.27" lengthAdjust="spacingAndGlyphs">N</tspan> <tspan x="-721.58" y="61.40" font-size="30" textLength="74.03" lengthAdjust="spacingAndGlyphs">[GeV]</tspan></text>
<text font-family="Liberation Sans, Arial, Helvetica, sans-serif" font-size="33.5" text-anchor="start" transform="translate(6.0 640.4)" font-weight="bold">C</text>
<rect x="181.8" y="674.4" width="63.1" height="26" fill="#00ffff" stroke="#000" stroke-width="2" stroke-linejoin="round"/>
<path d="M181.7 724.5 H241.4" stroke="#0000ff" stroke-width="2.2" stroke-dasharray="4.9 4.17"/>
<path d="M181.5 761.6 H243.3" stroke="#0000ff" stroke-width="2.3" stroke-dasharray="1.9 2.68"/>
<path d="M181.8 798.5 H241.8" stroke="#000" stroke-width="3.6" stroke-dasharray="5 5.6 2 5.6"/>
<text font-family="Liberation Sans, Arial, Helvetica, sans-serif" font-size="19" text-anchor="start" transform="translate(257.6 695.1) scale(0.971 1)" font-weight="bold">95% CL Observed limit</text>
<text font-family="Liberation Sans, Arial, Helvetica, sans-serif" font-size="19" text-anchor="start" transform="translate(257.6 731.1) scale(0.971 1)" font-weight="bold">95% CL Expected limit</text>
<text font-family="Liberation Sans, Arial, Helvetica, sans-serif" font-size="19" text-anchor="start" transform="translate(257.6 768.9) scale(0.971 1)" font-weight="bold">95% CL Expected limit <tspan font-weight="normal" font-size="21.3" dx="2.5">±</tspan><tspan dx="-1.5"> 1 </tspan><tspan font-weight="normal" font-size="19.0" dx="0.7">σ</tspan></text>
<text font-family="Liberation Sans, Arial, Helvetica, sans-serif" font-size="19" text-anchor="start" transform="translate(257.6 805.4) scale(0.971 1)" font-weight="bold">m<tspan font-size="13" dy="6">N</tspan><tspan dy="-6">=m</tspan><tspan font-size="13" dy="6">Z'</tspan><tspan dy="-6">/2</tspan></text>
<text font-family="Liberation Sans, Arial, Helvetica, sans-serif" font-size="31.5" text-anchor="start" transform="translate(529.2 699.4) scale(0.957 1)" font-weight="bold" font-style="italic">ATLAS</text>
<text font-family="Liberation Sans, Arial, Helvetica, sans-serif"><tspan x="230.69" y="1076.35" font-size="27.5" textLength="11.24" lengthAdjust="spacingAndGlyphs">√</tspan><tspan x="241.30" y="1075.45" font-size="27" textLength="12.69" lengthAdjust="spacingAndGlyphs">s</tspan> <tspan x="260.58" y="1075.45" font-size="27" textLength="16.17" lengthAdjust="spacingAndGlyphs">=</tspan> <tspan x="283.38" y="1075.45" font-size="27" textLength="14.67" lengthAdjust="spacingAndGlyphs">8</tspan> <tspan x="304.95" y="1075.45" font-size="27" textLength="55.55" lengthAdjust="spacingAndGlyphs">TeV,</tspan> <tspan x="367.03" y="1075.45" font-size="27" textLength="49.59" lengthAdjust="spacingAndGlyphs">20.3</tspan> <tspan x="425.54" y="1075.45" font-size="27" textLength="19.95" lengthAdjust="spacingAndGlyphs">fb</tspan><tspan x="446.45" y="1062.35" font-size="15" textLength="12.86" lengthAdjust="spacingAndGlyphs">-1</tspan></text>
<text font-family="Liberation Sans, Arial, Helvetica, sans-serif"><tspan x="228.08" y="1112.35" font-size="27" textLength="29.19" lengthAdjust="spacingAndGlyphs">ee</tspan></text>
</g>
<g id="panelD">
<path d="M1032.9 1138.2 L1032.9 1104.5 L1293.6 937.5 L1320.0 923.2 L1343.9 912.4 L1360.7 908.3 L1372.7 906.6 L1406.3 906.6 L1427.9 916.0 L1444.7 926.7 L1459.1 939.9 L1473.5 960.3 L1485.4 984.3 L1493.8 1013.1 L1499.8 1039.5 L1503.4 1063.5 L1496.2 1085.0 L1491.4 1104.2 L1487.8 1123.4 L1483.0 1137.8Z" fill="#00ffff" stroke="none"/>
<path d="M1032.9 1104.5 L1293.6 937.5 L1320.0 923.2 L1343.9 912.4 L1360.7 908.3 L1372.7 906.6 L1406.3 906.6 L1427.9 916.0 L1444.7 926.7 L1459.1 939.9 L1473.5 960.3 L1485.4 984.3 L1493.8 1013.1 L1499.8 1039.5 L1503.4 1063.5 L1496.2 1085.0 L1491.4 1104.2 L1487.8 1123.4 L1483.0 1137.8" fill="none" stroke="#000" stroke-width="2.4" stroke-linejoin="round"/>
<path d="M1032.9 1087.7 L1704.8 654.8" fill="none" stroke="#000" stroke-width="3.6" stroke-dasharray="5.2 5.77 1.3 5.77" stroke-dashoffset="14.93" transform="translate(0 -0.7)"/>
<path d="M1360.7 909.2 L1396.7 911.9 L1415.9 919.6 L1435.1 932.7 L1451.9 950.7 L1466.3 969.9 L1475.9 991.5 L1483.0 1015.5 L1489.0 1039.5 L1495.0 1063.5 L1489.0 1082.6 L1481.8 1104.2 L1475.9 1123.4 L1472.3 1137.8" fill="none" stroke="#0000ff" stroke-width="2.1" stroke-dasharray="1.9 2.6" stroke-linejoin="round"/>
<path d="M1032.9 1104.5 L1341.5 906.6 L1355.9 898.0 L1379.9 887.2 L1403.9 882.4 L1442.3 884.3 L1466.3 895.6 L1490.2 907.6 L1507.0 924.3 L1523.8 945.9 L1535.8 972.3 L1544.2 998.7 L1550.2 1027.5 L1555.5 1055.1 L1543.0 1070.6 L1528.6 1092.2 L1526.2 1113.8 L1523.8 1137.8" fill="none" stroke="#0000ff" stroke-width="2.1" stroke-dasharray="1.9 2.6" stroke-linejoin="round"/>
<path d="M1032.9 1104.5 L1320.0 920.5 L1343.9 907.6 L1356.7 901.8 L1372.0 897.7 L1387.4 895.7 L1406.1 895.7 L1423.6 898.8 L1444.0 908.0 L1464.6 921.5 L1477.1 934.9 L1486.6 947.1 L1499.8 969.9 L1509.4 993.9 L1515.4 1017.9 L1521.4 1041.9 L1525.0 1057.5 L1514.2 1073.0 L1508.2 1094.6 L1504.6 1116.2 L1502.2 1137.8" fill="none" stroke="#0000ff" stroke-width="2.3" stroke-dasharray="4.9 4.1" stroke-linejoin="round"/>
<rect x="1032.9" y="650.5" width="678.7" height="487.7" fill="none" stroke="#000" stroke-width="1.8"/>
<path d="M1032.9 1138.2 v-7.2 M1032.9 650.5 v7.2 M1059.0 1138.2 v-14.4 M1059.0 650.5 v14.4 M1085.1 1138.2 v-7.2 M1085.1 650.5 v7.2 M1111.2 1138.2 v-7.2 M1111.2 650.5 v7.2 M1137.3 1138.2 v-7.2 M1137.3 650.5 v7.2 M1163.4 1138.2 v-7.2 M1163.4 650.5 v7.2 M1189.5 1138.2 v-14.4 M1189.5 650.5 v14.4 M1215.6 1138.2 v-7.2 M1215.6 650.5 v7.2 M1241.7 1138.2 v-7.2 M1241.7 650.5 v7.2 M1267.8 1138.2 v-7.2 M1267.8 650.5 v7.2 M1293.9 1138.2 v-7.2 M1293.9 650.5 v7.2 M1320.0 1138.2 v-14.4 M1320.0 650.5 v14.4 M1346.1 1138.2 v-7.2 M1346.1 650.5 v7.2 M1372.2 1138.2 v-7.2 M1372.2 650.5 v7.2 M1398.4 1138.2 v-7.2 M1398.4 650.5 v7.2 M1424.5 1138.2 v-7.2 M1424.5 650.5 v7.2 M1450.6 1138.2 v-14.4 M1450.6 650.5 v14.4 M1476.7 1138.2 v-7.2 M1476.7 650.5 v7.2 M1502.8 1138.2 v-7.2 M1502.8 650.5 v7.2 M1528.9 1138.2 v-7.2 M1528.9 650.5 v7.2 M1555.0 1138.2 v-7.2 M1555.0 650.5 v7.2 M1581.1 1138.2 v-14.4 M1581.1 650.5 v14.4 M1607.2 1138.2 v-7.2 M1607.2 650.5 v7.2 M1633.3 1138.2 v-7.2 M1633.3 650.5 v7.2 M1659.4 1138.2 v-7.2 M1659.4 650.5 v7.2 M1685.5 1138.2 v-7.2 M1685.5 650.5 v7.2 M1711.6 1138.2 v-14.4 M1711.6 650.5 v14.4 M1032.9 1138.2 h10.3 M1711.6 1138.2 h-10.3 M1032.9 1121.3 h10.3 M1711.6 1121.3 h-10.3 M1032.9 1104.5 h10.3 M1711.6 1104.5 h-10.3 M1032.9 1087.7 h20.4 M1711.6 1087.7 h-20.4 M1032.9 1070.9 h10.3 M1711.6 1070.9 h-10.3 M1032.9 1054.1 h10.3 M1711.6 1054.1 h-10.3 M1032.9 1037.2 h10.3 M1711.6 1037.2 h-10.3 M1032.9 1020.4 h20.4 M1711.6 1020.4 h-20.4 M1032.9 1003.6 h10.3 M1711.6 1003.6 h-10.3 M1032.9 986.8 h10.3 M1711.6 986.8 h-10.3 M1032.9 970.0 h10.3 M1711.6 970.0 h-10.3 M1032.9 953.2 h20.4 M1711.6 953.2 h-20.4 M1032.9 936.3 h10.3 M1711.6 936.3 h-10.3 M1032.9 919.5 h10.3 M1711.6 919.5 h-10.3 M1032.9 902.7 h10.3 M1711.6 902.7 h-10.3 M1032.9 885.9 h20.4 M1711.6 885.9 h-20.4 M1032.9 869.1 h10.3 M1711.6 869.1 h-10.3 M1032.9 852.3 h10.3 M1711.6 852.3 h-10.3 M1032.9 835.4 h10.3 M1711.6 835.4 h-10.3 M1032.9 818.6 h20.4 M1711.6 818.6 h-20.4 M1032.9 801.8 h10.3 M1711.6 801.8 h-10.3 M1032.9 785.0 h10.3 M1711.6 785.0 h-10.3 M1032.9 768.2 h10.3 M1711.6 768.2 h-10.3 M1032.9 751.4 h20.4 M1711.6 751.4 h-20.4 M1032.9 734.5 h10.3 M1711.6 734.5 h-10.3 M1032.9 717.7 h10.3 M1711.6 717.7 h-10.3 M1032.9 700.9 h10.3 M1711.6 700.9 h-10.3 M1032.9 684.1 h20.4 M1711.6 684.1 h-20.4 M1032.9 667.3 h10.3 M1711.6 667.3 h-10.3 M1032.9 650.5 h10.3 M1711.6 650.5 h-10.3" fill="none" stroke="#000" stroke-width="1.7"/>
<text font-family="Liberation Sans, Arial, Helvetica, sans-serif" font-size="30.2" text-anchor="middle" transform="translate(1059.0 1165.4) scale(0.950 1)" >500</text>
<text font-family="Liberation Sans, Arial, Helvetica, sans-serif" font-size="30.2" text-anchor="middle" transform="translate(1189.5 1165.4) scale(0.950 1)" >1000</text>
<text font-family="Liberation Sans, Arial, Helvetica, sans-serif" font-size="30.2" text-anchor="middle" transform="translate(1320.0 1165.4) scale(0.950 1)" >1500</text>
<text font-family="Liberation Sans, Arial, Helvetica, sans-serif" font-size="30.2" text-anchor="middle" transform="translate(1450.6 1165.4) scale(0.950 1)" >2000</text>
<text font-family="Liberation Sans, Arial, Helvetica, sans-serif" font-size="30.2" text-anchor="middle" transform="translate(1581.1 1165.4) scale(0.950 1)" >2500</text>
<text font-family="Liberation Sans, Arial, Helvetica, sans-serif" font-size="30.2" text-anchor="middle" transform="translate(1711.6 1165.4) scale(0.950 1)" >3000</text>
<text font-family="Liberation Sans, Arial, Helvetica, sans-serif" font-size="30.2" text-anchor="end" transform="translate(1028.8 1097.9) scale(0.950 1)" >200</text>
<text font-family="Liberation Sans, Arial, Helvetica, sans-serif" font-size="30.2" text-anchor="end" transform="translate(1028.8 1030.6) scale(0.950 1)" >400</text>
<text font-family="Liberation Sans, Arial, Helvetica, sans-serif" font-size="30.2" text-anchor="end" transform="translate(1028.8 963.4) scale(0.950 1)" >600</text>
<text font-family="Liberation Sans, Arial, Helvetica, sans-serif" font-size="30.2" text-anchor="end" transform="translate(1028.8 896.1) scale(0.950 1)" >800</text>
<text font-family="Liberation Sans, Arial, Helvetica, sans-serif" font-size="30.2" text-anchor="end" transform="translate(1028.8 828.8) scale(0.950 1)" >1000</text>
<text font-family="Liberation Sans, Arial, Helvetica, sans-serif" font-size="30.2" text-anchor="end" transform="translate(1028.8 761.6) scale(0.950 1)" >1200</text>
<text font-family="Liberation Sans, Arial, Helvetica, sans-serif" font-size="30.2" text-anchor="end" transform="translate(1028.8 694.3) scale(0.950 1)" >1400</text>
<text font-family="Liberation Sans, Arial, Helvetica, sans-serif"><tspan x="1592.42" y="1213.55" font-size="30" textLength="23.21" lengthAdjust="spacingAndGlyphs">m</tspan><tspan x="1615.34" y="1222.25" font-size="19" textLength="16.32" lengthAdjust="spacingAndGlyphs">Z'</tspan> <tspan x="1638.87" y="1213.55" font-size="30" textLength="74.14" lengthAdjust="spacingAndGlyphs">[GeV]</tspan></text>
<text font-family="Liberation Sans, Arial, Helvetica, sans-serif" transform="rotate(-90)"><tspan x="-765.13" y="943.40" font-size="30" textLength="22.02" lengthAdjust="spacingAndGlyphs">m</tspan><tspan x="-746.24" y="952.20" font-size="21" textLength="18.27" lengthAdjust="spacingAndGlyphs">N</tspan> <tspan x="-721.58" y="943.40" font-size="30" textLength="74.03" lengthAdjust="spacingAndGlyphs">[GeV]</tspan></text>
<text font-family="Liberation Sans, Arial, Helvetica, sans-serif" font-size="33.5" text-anchor="start" transform="translate(882.8 640.4)" font-weight="bold">D</text>
<rect x="1063.8" y="674.4" width="63.1" height="26" fill="#00ffff" stroke="#000" stroke-width="2" stroke-linejoin="round"/>
<path d="M1063.7 724.5 H1123.4" stroke="#0000ff" stroke-width="2.2" stroke-dasharray="4.9 4.17"/>
<path d="M1063.5 761.6 H1125.3" stroke="#0000ff" stroke-width="2.3" stroke-dasharray="1.9 2.68"/>
<path d="M1063.8 798.5 H1123.8" stroke="#000" stroke-width="3.6" stroke-dasharray="5 5.6 2 5.6"/>
<text font-family="Liberation Sans, Arial, Helvetica, sans-serif" font-size="19" text-anchor="start" transform="translate(1139.6 695.1) scale(0.971 1)" font-weight="bold">95% CL Observed limit</text>
<text font-family="Liberation Sans, Arial, Helvetica, sans-serif" font-size="19" text-anchor="start" transform="translate(1139.6 731.1) scale(0.971 1)" font-weight="bold">95% CL Expected limit</text>
<text font-family="Liberation Sans, Arial, Helvetica, sans-serif" font-size="19" text-anchor="start" transform="translate(1139.6 768.9) scale(0.971 1)" font-weight="bold">95% CL Expected limit <tspan font-weight="normal" font-size="21.3" dx="2.5">±</tspan><tspan dx="-1.5"> 1 </tspan><tspan font-weight="normal" font-size="19.0" dx="0.7">σ</tspan></text>
<text font-family="Liberation Sans, Arial, Helvetica, sans-serif" font-size="19" text-anchor="start" transform="translate(1139.6 805.4) scale(0.971 1)" font-weight="bold">m<tspan font-size="13" dy="6">N</tspan><tspan dy="-6">=m</tspan><tspan font-size="13" dy="6">Z'</tspan><tspan dy="-6">/2</tspan></text>
<text font-family="Liberation Sans, Arial, Helvetica, sans-serif" font-size="31.5" text-anchor="start" transform="translate(1411.2 699.4) scale(0.957 1)" font-weight="bold" font-style="italic">ATLAS</text>
<text font-family="Liberation Sans, Arial, Helvetica, sans-serif"><tspan x="1112.69" y="1076.35" font-size="27.5" textLength="11.24" lengthAdjust="spacingAndGlyphs">√</tspan><tspan x="1123.30" y="1075.45" font-size="27" textLength="12.69" lengthAdjust="spacingAndGlyphs">s</tspan> <tspan x="1142.58" y="1075.45" font-size="27" textLength="16.17" lengthAdjust="spacingAndGlyphs">=</tspan> <tspan x="1165.38" y="1075.45" font-size="27" textLength="14.67" lengthAdjust="spacingAndGlyphs">8</tspan> <tspan x="1186.95" y="1075.45" font-size="27" textLength="55.55" lengthAdjust="spacingAndGlyphs">TeV,</tspan> <tspan x="1249.03" y="1075.45" font-size="27" textLength="49.59" lengthAdjust="spacingAndGlyphs">20.3</tspan> <tspan x="1307.54" y="1075.45" font-size="27" textLength="19.95" lengthAdjust="spacingAndGlyphs">fb</tspan><tspan x="1328.45" y="1062.35" font-size="15" textLength="12.86" lengthAdjust="spacingAndGlyphs">-1</tspan></text>
<text font-family="Liberation Sans, Arial, Helvetica, sans-serif"><tspan x="1109.21" y="1112.35" font-size="27" textLength="32.29" lengthAdjust="spacingAndGlyphs">μμ</tspan></text>
</g>
</svg></body></html>
